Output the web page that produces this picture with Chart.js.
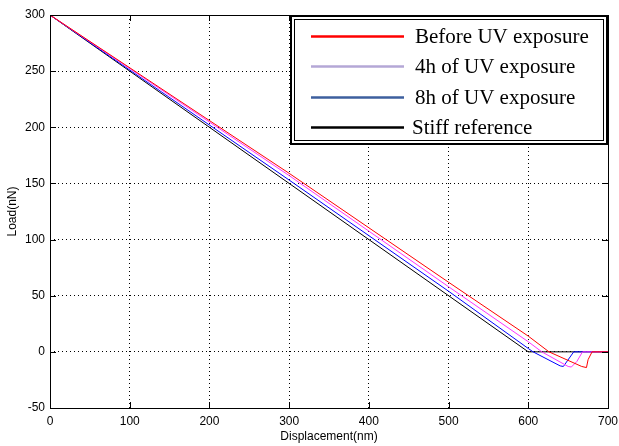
<!DOCTYPE html>
<html>
<head>
<meta charset="utf-8">
<script src="https://cdn.jsdelivr.net/npm/chart.js@4/dist/chart.umd.min.js"></script>
<style>
  html, body { margin: 0; padding: 0; background: #fff; }
  #wrap { width: 619px; height: 446px; position: relative; }
</style>
</head>
<body>
<div id="wrap"><canvas id="c" width="619" height="446"></canvas></div>
<script>
// --------------------
// Data
// --------------------
const seriesNames = ['Before UV exposure', '4h of UV exposure', '8h of UV exposure', 'Stiff reference'];

const beforeX = [0, 300, 500, 600, 626, 667, 673, 675, 680, 700];
const beforeY = [300, 159, 62, 14, 0, -13, -14, -7, 0, 0];

const uv4hX = [0, 300, 500, 600, 617, 650, 654, 661, 668, 700];
const uv4hY = [300, 157, 58, 9, 0, -13, -13.5, -8.5, 0, 0];

const uv8hX = [0, 300, 500, 600, 606, 640, 644, 657, 700];
const uv8hY = [300, 153, 54, 3, 0, -12.5, -13, 0, 0];

const stiffX = [0, 600, 700];
const stiffY = [300, 0, 0];

const xTicks = [0, 100, 200, 300, 400, 500, 600, 700];
const yTicks = [-50, 0, 50, 100, 150, 200, 250, 300];

const lineColors = ['#ff0000', '#ff33ff', '#0000ff', '#000000'];
const legendColors = ['#ff0000', '#b4a7d6', '#3d5f9e', '#000000'];

function pts(xs, ys) {
  return xs.map((x, i) => ({ x, y: ys[i] }));
}

// --------------------
// Frame, inward ticks and boxed legend
// --------------------
const framePlugin = {
  id: 'frame',
  afterDraw(chart) {
    const { ctx, chartArea: a, scales } = chart;
    ctx.save();
    ctx.strokeStyle = '#000';
    ctx.lineWidth = 1;
    ctx.strokeRect(a.left + 0.5, a.top + 0.5, a.right - a.left, a.bottom - a.top);

    // inward ticks like MATLAB
    ctx.beginPath();
    xTicks.forEach(v => {
      const px = Math.round(scales.x.getPixelForValue(v)) + 0.5;
      ctx.moveTo(px, a.bottom); ctx.lineTo(px, a.bottom - 6);
      ctx.moveTo(px, a.top); ctx.lineTo(px, a.top + 6);
    });
    yTicks.forEach(v => {
      const py = Math.round(scales.y.getPixelForValue(v)) + 0.5;
      ctx.moveTo(a.left, py); ctx.lineTo(a.left + 6, py);
      ctx.moveTo(a.right, py); ctx.lineTo(a.right - 6, py);
    });
    ctx.stroke();

    // legend box
    const bx = 290, by = 15, bw = 318, bh = 130;
    ctx.fillStyle = '#fff';
    ctx.fillRect(bx, by, bw, bh);
    ctx.lineWidth = 2;
    ctx.strokeRect(bx + 1, by + 1, bw - 2, bh - 2);
    ctx.lineWidth = 1;
    ctx.strokeStyle = '#000';
    ctx.strokeRect(bx + 4.5, by + 4.5, bw - 9, bh - 9);

    const rowsY = [36, 66, 97, 127];
    const textX = [415, 415, 415, 412];
    ctx.font = '21px "Liberation Serif", "Times New Roman", serif';
    ctx.textBaseline = 'middle';
    seriesNames.forEach((name, i) => {
      ctx.strokeStyle = legendColors[i];
      ctx.lineWidth = 2.5;
      ctx.beginPath();
      ctx.moveTo(311, rowsY[i] + 0.5);
      ctx.lineTo(404, rowsY[i] + 0.5);
      ctx.stroke();
      ctx.fillStyle = '#000';
      ctx.fillText(name, textX[i], rowsY[i] + 1);
    });
    ctx.restore();
  }
};

const tickFont = { family: '"Liberation Sans", Arial, sans-serif', size: 12 };

new Chart(document.getElementById('c'), {
  type: 'scatter',
  data: {
    datasets: [
      { label: seriesNames[0], data: pts(beforeX, beforeY), borderColor: lineColors[0] },
      { label: seriesNames[1], data: pts(uv4hX, uv4hY), borderColor: lineColors[1] },
      { label: seriesNames[2], data: pts(uv8hX, uv8hY), borderColor: lineColors[2] },
      { label: seriesNames[3], data: pts(stiffX, stiffY), borderColor: lineColors[3] }
    ].map(d => ({ ...d, showLine: true, borderWidth: 1, pointRadius: 0, tension: 0, fill: false }))
  },
  options: {
    responsive: false,
    animation: false,
    layout: { padding: { left: 0, top: 15, right: 11, bottom: 0 } },
    plugins: { legend: { display: false }, tooltip: { enabled: false } },
    scales: {
      x: {
        type: 'linear', min: 0, max: 700,
        afterBuildTicks: s => { s.ticks = xTicks.map(v => ({ value: v })); },
        afterFit: s => { s.height = 38; s.paddingLeft = 0; s.paddingRight = 0; },
        grid: { color: '#000', drawTicks: false, lineWidth: 1 },
        border: { display: false, dash: [1, 3] },
        ticks: { color: '#000', font: tickFont, padding: 6, maxRotation: 0 },
        title: { display: true, text: 'Displacement(nm)', color: '#000', font: tickFont, padding: { top: 0, bottom: 2 } }
      },
      y: {
        type: 'linear', min: -50, max: 300,
        afterBuildTicks: s => { s.ticks = yTicks.map(v => ({ value: v })); },
        afterFit: s => { s.width = 50; s.paddingTop = 0; s.paddingBottom = 0; },
        grid: { color: '#000', drawTicks: false, lineWidth: 1 },
        border: { display: false, dash: [1, 3] },
        ticks: { color: '#000', font: tickFont, padding: 5 },
        title: { display: true, text: 'Load(nN)', color: '#000', font: tickFont, padding: { top: 5, bottom: 0 } }
      }
    }
  },
  plugins: [framePlugin]
});
</script>
</body>
</html>
